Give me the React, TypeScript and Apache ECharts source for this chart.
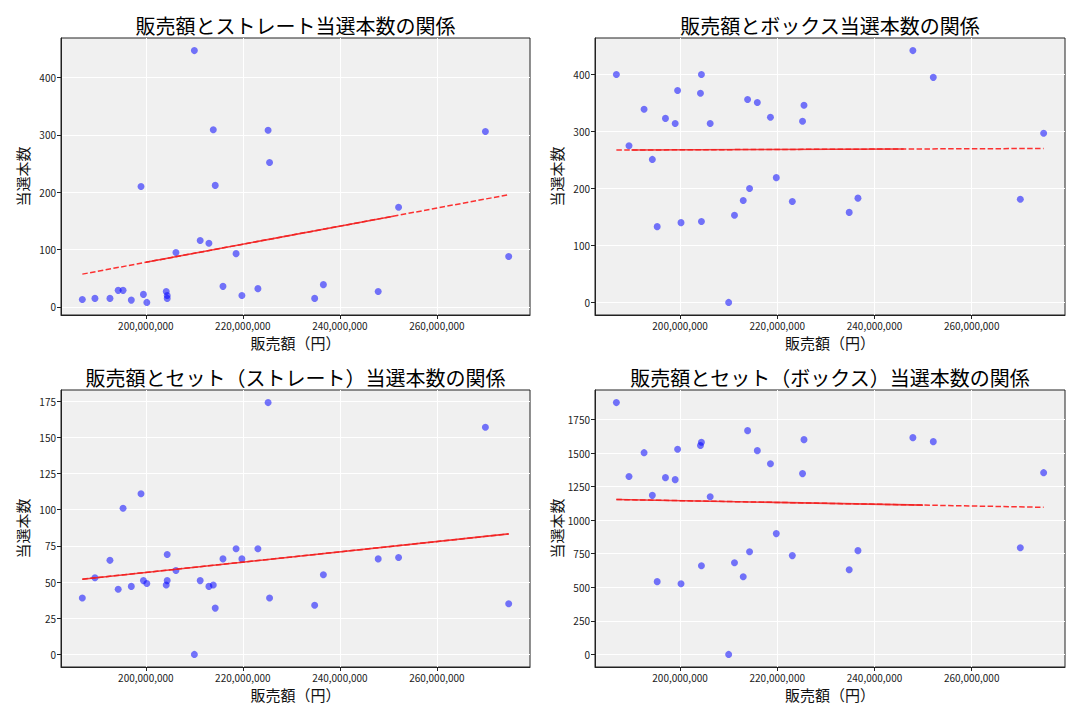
import React, { useEffect, useRef } from "react";
import * as echarts from "echarts";

// 販売額（円）
const sales = [
  186900000, 189500000, 192600000, 194300000, 195300000, 197000000, 199000000, 199500000, 200200000, 204200000,
  204400000, 204400000, 206200000, 210000000, 211200000, 213000000, 213900000, 214300000, 215900000, 218600000,
  219800000, 223100000, 225200000, 225500000, 234800000, 236600000, 247900000, 252100000, 270000000, 274800000,
];
// ストレート当選本数
const straightWins = [13, 15, 15, 29, 29, 12, 210, 22, 8, 27, 20, 15, 95, 447, 116, 111, 309, 212, 36, 93, 20, 32, 308, 252, 15, 39, 27, 174, 306, 88];
// ボックス当選本数
const boxWins = [400, 275, 339, 251, 133, 323, 314, 372, 140, 367, 400, 142, 314, 0, 153, 179, 356, 200, 351, 325, 219, 177, 318, 346, 158, 183, 442, 395, 181, 297];
// セット（ストレート）当選本数
const setStraightWins = [39, 53, 65, 45, 101, 47, 111, 51, 49, 48, 69, 51, 58, 0, 51, 47, 48, 32, 66, 73, 66, 73, 174, 39, 34, 55, 66, 67, 157, 35];
// セット（ボックス）当選本数
const setBoxWins = [1876, 1325, 1503, 1185, 542, 1317, 1302, 1528, 527, 1556, 1580, 661, 1175, 0, 683, 579, 1667, 765, 1518, 1421, 900, 736, 1347, 1600, 631, 773, 1615, 1585, 795, 1354];

const titles = [
  "販売額とストレート当選本数の関係",
  "販売額とボックス当選本数の関係",
  "販売額とセット（ストレート）当選本数の関係",
  "販売額とセット（ボックス）当選本数の関係",
];
const xTicks = [200000000, 220000000, 240000000, 260000000];
const yTicksStraight = [0, 100, 200, 300, 400];
const yTicksBox = [0, 100, 200, 300, 400];
const yTicksSetStraight = [0, 25, 50, 75, 100, 125, 150, 175];
const yTicksSetBox = [0, 250, 500, 750, 1000, 1250, 1500, 1750];
const xLabel = "販売額（円）";
const yLabel = "当選本数";

const FONT = "'Noto Sans CJK JP', 'Noto Sans', sans-serif";

function fit(xs: number[], ys: number[]) {
  const n = xs.length;
  const mx = xs.reduce((a, b) => a + b, 0) / n;
  const my = ys.reduce((a, b) => a + b, 0) / n;
  let sxy = 0;
  let sxx = 0;
  for (let i = 0; i < n; i++) {
    sxy += (xs[i] - mx) * (ys[i] - my);
    sxx += (xs[i] - mx) * (xs[i] - mx);
  }
  const b = sxy / sxx;
  return { a: my - b * mx, b };
}

const fmt = (v: number) => Math.round(v).toLocaleString("en-US");

export default function App() {
  const ref = useRef<HTMLDivElement>(null);
  useEffect(() => {
    if (!ref.current) return;
    const chart = echarts.init(ref.current, null, { renderer: "svg" });
    const panels = [
      { ys: straightWins, ticks: yTicksStraight, left: 61, top: 38, w: 469, solid: [200000000, 251000000] },
      { ys: boxWins, ticks: yTicksBox, left: 595, top: 38, w: 470, solid: [190000000, 246000000] },
      { ys: setStraightWins, ticks: yTicksSetStraight, left: 61, top: 390, w: 469, solid: [0, 0] },
      { ys: setBoxWins, ticks: yTicksSetBox, left: 595, top: 390, w: 470, solid: [0, 250000000] },
    ];
    const H = 277;
    const xMinD = Math.min(...sales);
    const xMaxD = Math.max(...sales);
    const xPad = (xMaxD - xMinD) * 0.05;

    const grids: any[] = [];
    const xAxes: any[] = [];
    const yAxes: any[] = [];
    const series: any[] = [];
    const graphics: any[] = [];

    panels.forEach((p, i) => {
      grids.push({
        left: p.left,
        top: p.top,
        width: p.w,
        height: H,
        show: true,
        backgroundColor: "#f0f0f0",
        borderColor: "#222",
        borderWidth: 1,
      });
      const yMinD = Math.min(...p.ys);
      const yMaxD = Math.max(...p.ys);
      const yPad = (yMaxD - yMinD) * 0.05;
      xAxes.push({
        gridIndex: i,
        type: "value",
        min: xMinD - xPad,
        max: xMaxD + xPad,
        axisLine: { show: true, onZero: false, lineStyle: { color: "#222", width: 1 } },
        axisTick: { show: true, length: 4, customValues: xTicks, lineStyle: { color: "#222" } },
        axisLabel: { customValues: xTicks, formatter: fmt, fontSize: 10, color: "#222", margin: 5, fontFamily: FONT },
        splitLine: { show: true, lineStyle: { color: "#ffffff", width: 1 } },
        name: xLabel,
        nameLocation: "middle",
        nameGap: 20,
        nameTextStyle: { fontSize: 15, color: "#111", fontFamily: FONT },
      });
      yAxes.push({
        gridIndex: i,
        type: "value",
        min: yMinD - yPad,
        max: yMaxD + yPad,
        axisLine: { show: true, onZero: false, lineStyle: { color: "#222", width: 1 } },
        axisTick: { show: true, length: 4, customValues: p.ticks, lineStyle: { color: "#222" } },
        axisLabel: {
          customValues: p.ticks,
          formatter: (v: number) => String(Math.round(v)),
          fontSize: 10,
          color: "#222",
          margin: 5,
          fontFamily: FONT,
        },
        splitLine: { show: true, lineStyle: { color: "#ffffff", width: 1 } },
        name: yLabel,
        nameLocation: "middle",
        nameGap: 31,
        nameTextStyle: { fontSize: 15, color: "#111", fontFamily: FONT },
      });
      series.push({
        type: "scatter",
        xAxisIndex: i,
        yAxisIndex: i,
        symbolSize: 7,
        itemStyle: { color: "rgba(0,0,255,0.66)" },
        data: sales.map((x, k) => [x, p.ys[k]]),
        z: 2,
      });
      const { a, b } = fit(sales, p.ys);
      series.push({
        type: "line",
        xAxisIndex: i,
        yAxisIndex: i,
        symbol: "none",
        lineStyle: { color: "rgba(255,0,0,0.8)", width: 1.5, type: [5.5, 2.4] },
        data: [
          [xMinD, a + b * xMinD],
          [xMaxD, a + b * xMaxD],
        ],
        z: 3,
      });
      const s0 = Math.max(p.solid[0], xMinD);
      const s1 = p.solid[1] === 0 ? xMaxD : Math.min(p.solid[1], xMaxD);
      series.push({
        type: "line",
        xAxisIndex: i,
        yAxisIndex: i,
        symbol: "none",
        lineStyle: { color: "rgba(240,30,30,0.85)", width: 1.6, type: "solid" },
        data: [
          [s0, a + b * s0],
          [s1, a + b * s1],
        ],
        z: 3,
      });
      graphics.push({
        type: "text",
        x: p.left + p.w / 2,
        y: p.top - 13,
        style: {
          text: titles[i],
          font: `20px ${FONT}`,
          fill: "#000",
          textAlign: "center",
          textVerticalAlign: "middle",
        },
      });
    });

    chart.setOption({
      animation: false,
      backgroundColor: "#ffffff",
      grid: grids,
      xAxis: xAxes,
      yAxis: yAxes,
      series,
      graphic: graphics,
    });
    return () => chart.dispose();
  }, []);
  return (
    <div
      ref={ref}
      style={{ position: "fixed", left: 0, top: 0, width: 1080, height: 720, background: "#fff" }}
    />
  );
}
